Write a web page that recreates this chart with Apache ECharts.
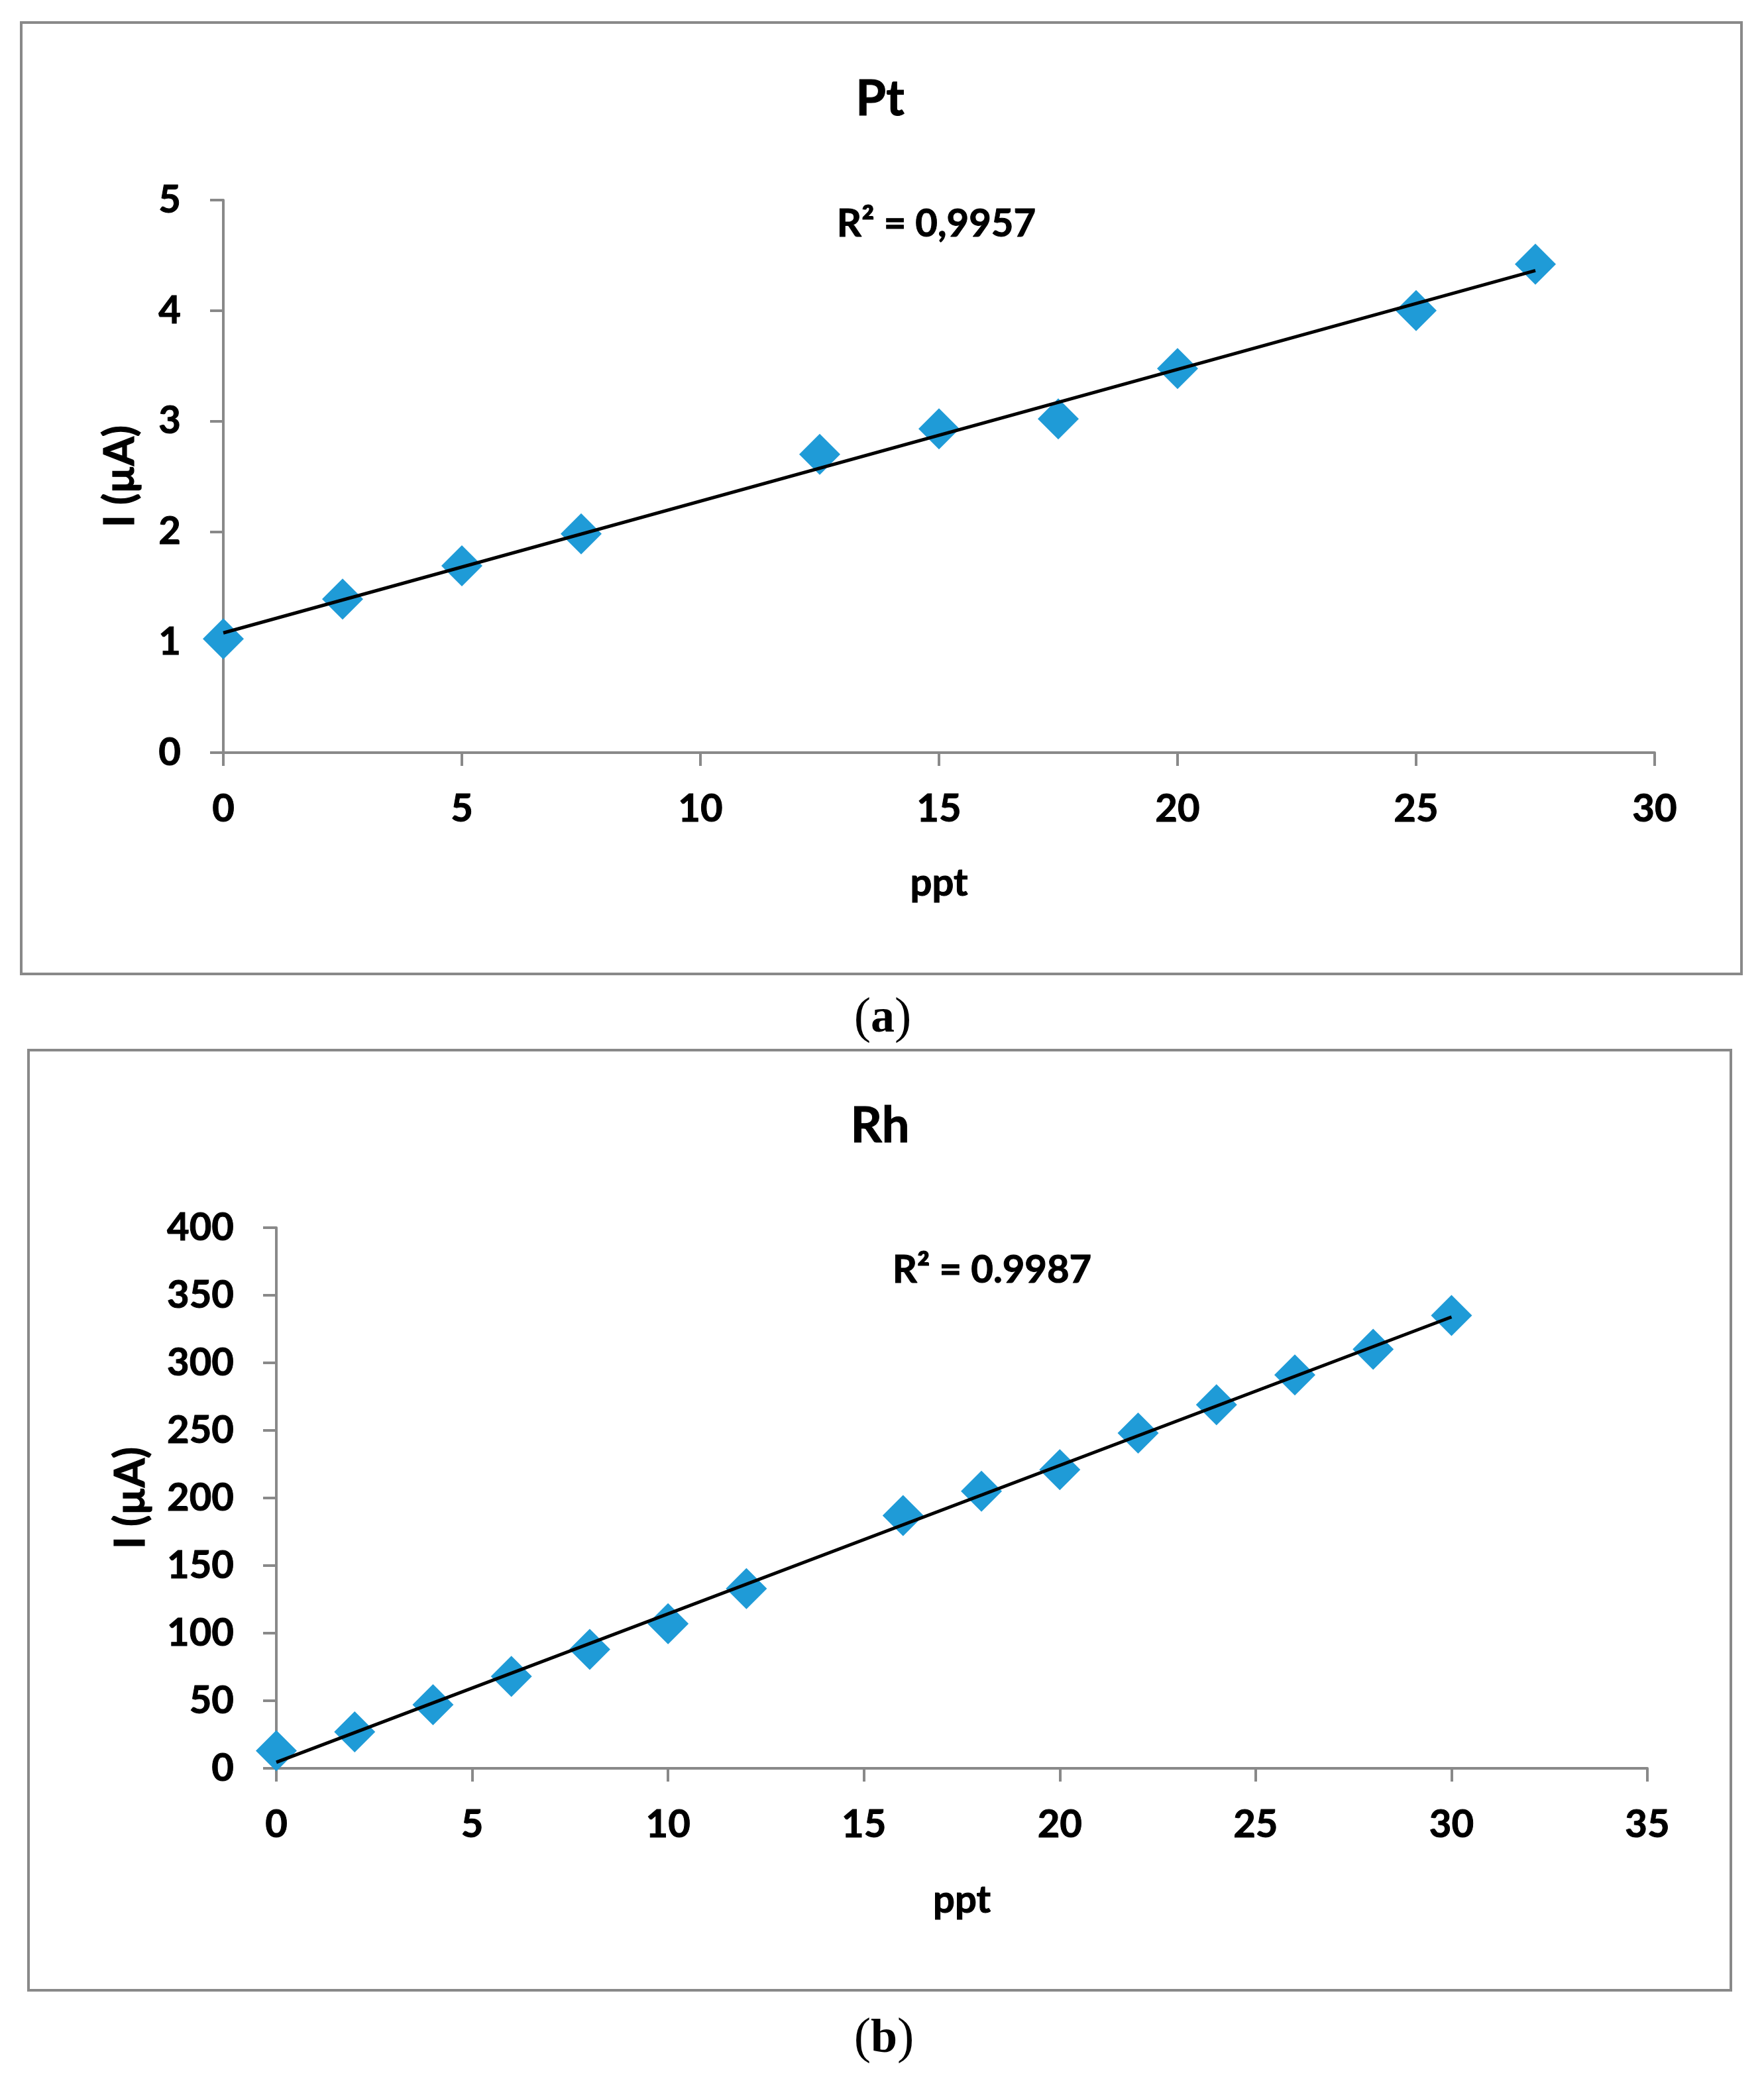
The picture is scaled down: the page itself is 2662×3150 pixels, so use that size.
<!DOCTYPE html>
<html>
<head>
<meta charset="utf-8">
<script src="https://cdn.jsdelivr.net/npm/echarts@6/dist/echarts.min.js"></script>
<style>
html,body{margin:0;padding:0;background:#fff;}
#chart{width:2662px;height:3150px;}
</style>
</head>
<body>
<div id="chart"></div>
<script>
// ---- data ----
const ptX = [0, 2.5, 5, 7.5, 12.5, 15, 17.5, 20, 25, 27.5];
const ptY = [1.03, 1.39, 1.69, 1.98, 2.70, 2.93, 3.02, 3.475, 4.00, 4.42];
const rhX = [0, 2, 4, 6, 8, 10, 12, 16, 18, 20, 22, 24, 26, 28, 30];
const rhY = [13, 27, 47, 68, 88, 107, 133, 187, 205, 221, 248, 269, 291, 310, 335];
const panelTitles = ['Pt', 'Rh'];
const r2Labels = ['R\u00b2 = 0,9957', 'R\u00b2 = 0.9987'];
const panelLabels = ['a', 'b'];
const xAxisName = 'ppt';
const yAxisName = 'I (\u00b5A)';
const ptXRange = [0, 30, 5];
const ptYRange = [0, 5, 1];
const rhXRange = [0, 35, 5];
const rhYRange = [0, 400, 50];

// ---- helpers ----
function linFit(xs, ys) {
  const n = xs.length;
  let sx = 0, sy = 0, sxx = 0, sxy = 0;
  for (let i = 0; i < n; i++) { sx += xs[i]; sy += ys[i]; sxx += xs[i] * xs[i]; sxy += xs[i] * ys[i]; }
  const b = (n * sxy - sx * sy) / (n * sxx - sx * sx);
  const a = (sy - b * sx) / n;
  const x0 = Math.min(...xs), x1 = Math.max(...xs);
  return [[x0, a + b * x0], [x1, a + b * x1]];
}
const pairs = (xs, ys) => xs.map((x, i) => [x, ys[i]]);

const FONT = 'Lato, "Open Sans", "Liberation Sans", sans-serif';
const SERIF = '"Liberation Serif", "DejaVu Serif", serif';
const AXIS_COLOR = '#898989';
const MARK_COLOR = '#1f9bd7';

function axisCommon(range, labelMargin) {
  return {
    type: 'value', min: range[0], max: range[1], interval: range[2],
    axisLine: { show: true, onZero: false, lineStyle: { color: AXIS_COLOR, width: 4 } },
    axisTick: { show: true, inside: false, length: 20, lineStyle: { color: AXIS_COLOR, width: 4 } },
    splitLine: { show: false },
    axisLabel: { color: '#000', fontFamily: FONT, fontWeight: 'bold', fontSize: 58, margin: labelMargin,
                 textBorderColor: '#000', textBorderWidth: 1 },
    nameTextStyle: { color: '#000', fontFamily: FONT, fontWeight: 'bold', fontSize: 58,
                     textBorderColor: '#000', textBorderWidth: 1 }
  };
}
function yNameStyle() {
  return { color: '#000', fontFamily: FONT, fontWeight: 'bold', fontSize: 63, textBorderColor: '#000', textBorderWidth: 1.2 };
}
function txt(x, y, s, size) {
  return { type: 'text', x: x, y: y, style: { text: s, fill: '#000', font: 'bold ' + size + 'px ' + FONT,
           textAlign: 'center', textVerticalAlign: 'middle', stroke: '#000', lineWidth: 1 } };
}
function panelLabel(x, y, letter) {
  return { type: 'text', x: x, y: y, style: {
    text: '{p|(}{b|' + letter + '}{p|)}', fill: '#000', textAlign: 'center', textVerticalAlign: 'middle',
    rich: {
      p: { fontWeight: 'normal', fontSize: 76, fontFamily: SERIF, fill: '#000' },
      b: { fontWeight: 'bold', fontSize: 72, fontFamily: SERIF, fill: '#000' }
    } } };
}

const chart = echarts.init(document.getElementById('chart'), null, { renderer: 'canvas' });

const option = {
  backgroundColor: '#fff',
  animation: false,
  grid: [
    { left: 337, top: 302, width: 2160, height: 834 },
    { left: 417, top: 1853, width: 2069, height: 816 }
  ],
  xAxis: [
    Object.assign(axisCommon(ptXRange, 56), { gridIndex: 0, name: xAxisName, nameLocation: 'middle', nameGap: 168 }),
    Object.assign(axisCommon(rhXRange, 56), { gridIndex: 1, name: xAxisName, nameLocation: 'middle', nameGap: 170 })
  ],
  yAxis: [
    Object.assign(axisCommon(ptYRange, 64), { gridIndex: 0, name: yAxisName, nameLocation: 'middle', nameGap: 124, nameTextStyle: yNameStyle() }),
    Object.assign(axisCommon(rhYRange, 64), { gridIndex: 1, name: yAxisName, nameLocation: 'middle', nameGap: 188, nameTextStyle: yNameStyle() })
  ],
  series: [
    { type: 'scatter', xAxisIndex: 0, yAxisIndex: 0, data: pairs(ptX, ptY), symbol: 'diamond', symbolSize: 62,
      itemStyle: { color: MARK_COLOR, opacity: 1 }, z: 2 },
    { type: 'line', xAxisIndex: 0, yAxisIndex: 0, data: linFit(ptX, ptY), showSymbol: false, symbol: 'none',
      lineStyle: { color: '#000', width: 5 }, z: 3 },
    { type: 'scatter', xAxisIndex: 1, yAxisIndex: 1, data: pairs(rhX, rhY), symbol: 'diamond', symbolSize: 62,
      itemStyle: { color: MARK_COLOR, opacity: 1 }, z: 2 },
    { type: 'line', xAxisIndex: 1, yAxisIndex: 1, data: linFit(rhX, rhY), showSymbol: false, symbol: 'none',
      lineStyle: { color: '#000', width: 5 }, z: 3 }
  ],
  graphic: [
    { type: 'rect', shape: { x: 32, y: 34, width: 2596, height: 1436 }, style: { fill: 'none', stroke: AXIS_COLOR, lineWidth: 4 }, silent: true },
    { type: 'rect', shape: { x: 43, y: 1585, width: 2569, height: 1419 }, style: { fill: 'none', stroke: AXIS_COLOR, lineWidth: 4 }, silent: true },
    txt(1328, 150, panelTitles[0], 74),
    txt(1328, 1700, panelTitles[1], 74),
    txt(1413, 338, r2Labels[0], 58),
    txt(1497, 1917, r2Labels[1], 58),
    panelLabel(1332, 1538, panelLabels[0]),
    panelLabel(1334, 3078, panelLabels[1])
  ]
};
chart.setOption(option);
</script>
</body>
</html>
